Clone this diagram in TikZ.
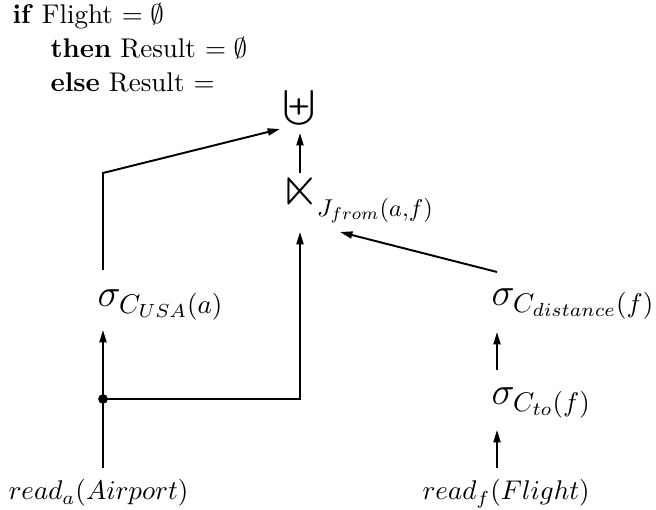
\documentclass[tikz,border=0pt]{standalone}
\usepackage{amssymb}
\usepackage{graphicx}
\usetikzlibrary{arrows.meta}
\begin{document}
\begin{tikzpicture}[x=0.37pt,y=-0.37pt,
  lbl/.style={inner sep=0pt, anchor=base west},
  arr/.style={line width=0.72pt, -{Triangle[length=4.6pt,width=2.6pt]}},
  ln/.style={line width=0.72pt}]
\useasboundingbox (0,0) rectangle (656,510);
\node[lbl] (if) at (12,24) {\textbf{if} Flight $=\emptyset$};
\node[lbl] (then) at (50,58) {\textbf{then} Result $=\emptyset$};
\node[lbl] (else) at (50,92) {\textbf{else} Result $=$};
\node[inner sep=0pt] (union) at (299,108) {\scalebox{1.05}[0.92]{$\displaystyle\biguplus$}};
\node[lbl] (join) at (280,206) {\Large\scalebox{1.3}[1.45]{$\ltimes$}\hspace{-1pt}\raisebox{-3.8pt}{\scalebox{0.9}{\normalsize$J_{from}(a{,}f)$}}};
\node[lbl] (susa) at (97,307) {\Large$\sigma_{C_{USA}(a)}$};
\node[lbl] (sdist) at (491,306) {\Large$\sigma_{C_{distance}(f)}$};
\node[lbl] (sto) at (491,405) {\Large$\sigma_{C_{to}(f)}$};
\node[lbl] (ra) at (8,500) {$read_a(Airport)$};
\node[lbl] (rf) at (422,500) {$read_f(Flight)$};
\coordinate (u-in-l) at (280,129);
\coordinate (u-in-b) at (300,133);
\coordinate (j-out) at (300,173);
\coordinate (j-in-b) at (300,232);
\coordinate (j-in-r) at (340,232);
\coordinate (a-corner) at (103,173);
\coordinate (susa-out) at (103,270);
\coordinate (susa-in) at (103,330);
\coordinate (fork) at (103,399);
\coordinate (fork-r) at (300,399);
\coordinate (ra-out) at (103,468);
\coordinate (sd-out) at (497,272);
\coordinate (sd-in) at (497,332);
\coordinate (st-out) at (497,370);
\coordinate (st-in) at (497,430);
\coordinate (rf-out) at (497,468);
\draw[arr] (j-out) -- (u-in-b);
\draw[arr] (susa-out) -- (a-corner) -- (u-in-l);
\draw[arr] (sd-out) -- (j-in-r);
\draw[arr] (fork) -- (susa-in);
\draw[arr] (fork) -- (fork-r) -- (j-in-b);
\draw[ln] (ra-out) -- (fork);
\fill (fork) circle (1.8pt);
\draw[arr] (st-out) -- (sd-in);
\draw[arr] (rf-out) -- (st-in);
\end{tikzpicture}
\end{document}
